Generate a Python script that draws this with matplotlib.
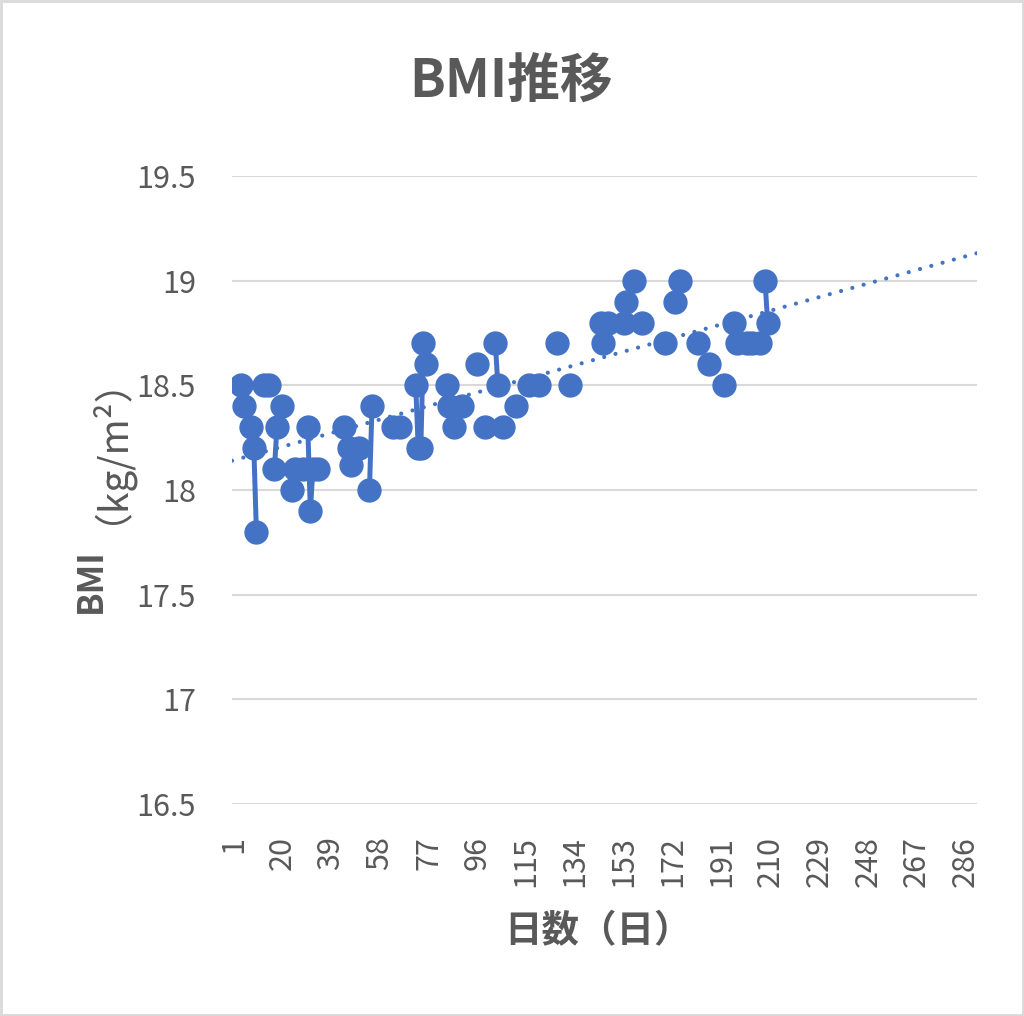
import numpy as np
import matplotlib
matplotlib.use("Agg")
import matplotlib.pyplot as plt
from matplotlib.patches import Rectangle

plt.rcParams['font.family'] = ['Noto Sans CJK JP', 'DejaVu Sans']

# measured days (day number) and BMI values; days without a measurement are gaps
days = [4, 5, 8, 9, 10, 13, 15, 17, 18, 20, 24, 25, 28, 30, 31, 32, 34,
        44, 46, 47, 50, 54, 55, 63, 66, 72, 73, 74, 75, 76,
        84, 85, 87, 90, 96, 99, 103, 104, 106, 111, 116, 120, 127, 132,
        144, 145, 147, 153, 154, 157, 160, 169, 173, 175,
        182, 186, 192, 196, 197, 201, 203, 206, 208, 209]
bmi = [18.5, 18.4, 18.3, 18.2, 17.8, 18.5, 18.5, 18.1, 18.3, 18.4, 18.0, 18.1, 18.1, 18.3, 17.9, 18.1, 18.1,
       18.3, 18.2, 18.12, 18.2, 18.0, 18.4, 18.3, 18.3, 18.5, 18.2, 18.2, 18.7, 18.6,
       18.5, 18.4, 18.3, 18.4, 18.6, 18.3, 18.7, 18.5, 18.3, 18.4, 18.5, 18.5, 18.7, 18.5,
       18.8, 18.7, 18.8, 18.8, 18.9, 19.0, 18.8, 18.7, 18.9, 19.0,
       18.7, 18.6, 18.5, 18.8, 18.7, 18.7, 18.7, 18.7, 19.0, 18.8]
n_days = 290
xticks = list(range(1, n_days + 1, 19))
yticks = [16.5, 17, 17.5, 18, 18.5, 19, 19.5]

blue = '#4472C4'
gray = '#595959'

# full series with NaN for missing days, so the line breaks like Excel gaps
x = np.arange(1, n_days + 1)
y = np.full(n_days, np.nan)
y[np.array(days) - 1] = bmi

fig = plt.figure(figsize=(10.24, 10.16), dpi=100)
ax = fig.add_axes([232 / 1024, 1 - 804 / 1016, 745 / 1024, 628 / 1016])

ax.plot(x, y, color=blue, lw=3.6, marker='o', ms=16.5, zorder=3)

# linear trend line over the whole axis
coef = np.polyfit(days, bmi, 1)
xt = np.array([0.5, n_days + 0.5])
ax.plot(xt, np.polyval(coef, xt), color=blue, lw=3.0,
        linestyle=(0, (0.01, 2.8)), dash_capstyle='round', zorder=4)

ax.set_xlim(0.5, n_days + 0.5)
ax.set_ylim(16.5, 19.5)
ax.set_yticks(yticks)
ax.set_yticklabels(['16.5', '17', '17.5', '18', '18.5', '19', '19.5'])
ax.set_xticks(xticks)
ax.set_xticklabels([str(t) for t in xticks], rotation=90)
ax.tick_params(axis='both', length=0, labelsize=22, colors=gray)
ax.tick_params(axis='y', pad=26)
ax.tick_params(axis='x', pad=23)
ax.grid(axis='y', color='#D9D9D9', lw=1.5)
ax.set_axisbelow(True)
for s in ax.spines.values():
    s.set_visible(False)

fig.text(511 / 1024, 1 - 82 / 1016, 'BMI推移', ha='center', va='center',
         fontsize=38, fontweight='bold', color=gray)
fig.text(598 / 1024, 1 - 931 / 1016, '日数（日）', ha='center', va='center',
         fontsize=27, fontweight='bold', color=gray)
fig.text(101 / 1024, 1 - 613 / 1016, 'BMI', rotation=90, rotation_mode='anchor',
         ha='left', va='baseline', fontsize=25, fontweight='bold', color=gray)
fig.text(101 / 1024, 1 - 524 / 1016, '（kg/m²）', rotation=90, rotation_mode='anchor',
         ha='left', va='baseline', fontsize=28, color=gray)

fig.patches.append(Rectangle((0.001, 0.001), 0.998, 0.998, transform=fig.transFigure,
                             fill=False, edgecolor='#D9D9D9', lw=2))

fig.savefig('out.png', dpi=100)
